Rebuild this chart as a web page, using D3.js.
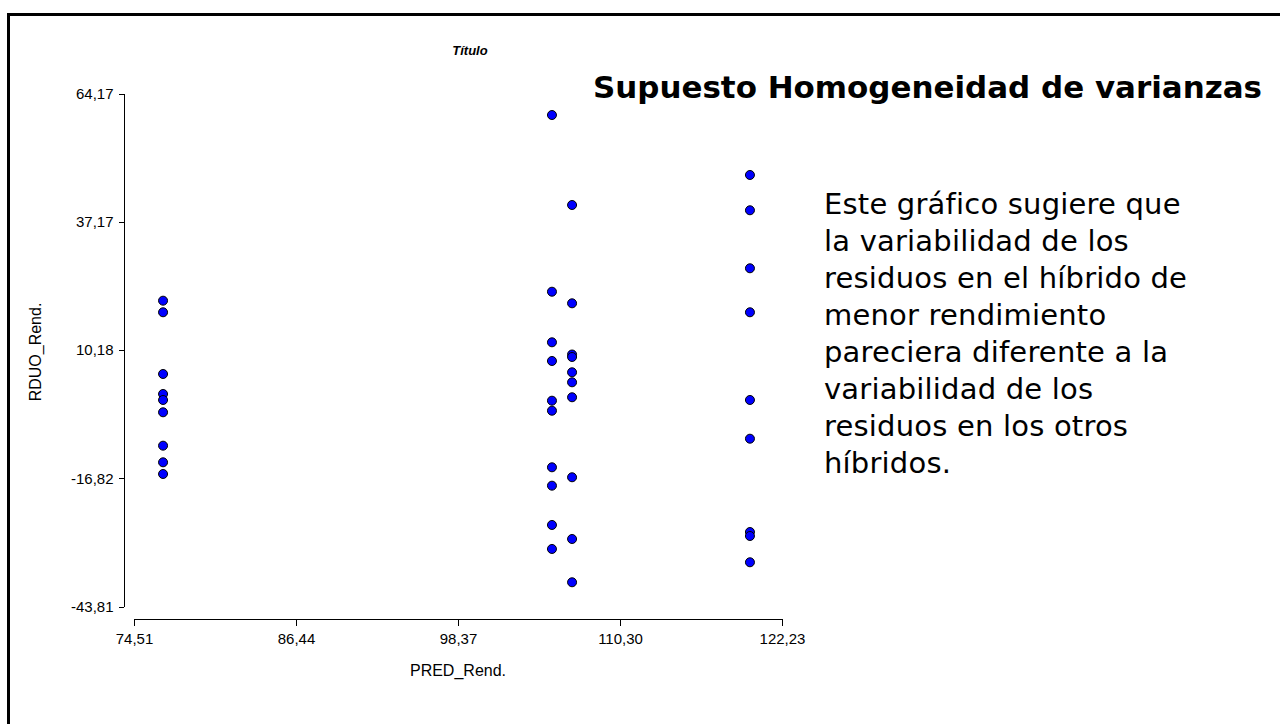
<!DOCTYPE html>
<html lang="es">
<head>
  <meta charset="UTF-8">
  <title>Supuesto Homogeneidad de varianzas</title>
  <script src="https://d3js.org/d3.v7.min.js"></script>
  <style>
    body { margin: 0; background: #fff; }
    svg { display: block; }
    .axis text { font-family: Arial, "Liberation Sans", sans-serif; font-size: 15px; fill: #000; }
    .axis path, .axis line { stroke: #000; stroke-width: 1; shape-rendering: crispEdges; }
    .axis-title { font-family: Arial, "Liberation Sans", sans-serif; font-size: 16px; }
    .comic { font-family: "DejaVu Sans", sans-serif; }
    .dot { fill: #0000ff; stroke: #000; stroke-width: 1; }
  </style>
</head>
<body>
<script>
  // ---- data ----
  const xTicks = [74.51, 86.44, 98.37, 110.30, 122.23];
  const yTicks = [-43.81, -16.82, 10.18, 37.17, 64.17];

  // predicted yield of each hybrid (x) and its residuals (y)
  const predA = 76.65;
  const residA = [20.56, 18.12, 5.13, 0.92, -0.34, -2.93, -9.96, -13.46, -15.92];

  const predB = 105.29;
  const residB = [59.64, 22.45, 11.80, 7.87, -0.49, -2.60, -14.51, -18.38, -26.65, -31.70];

  const predC = 106.77;
  const residC = [40.70, 20.01, 9.23, 8.71, 5.49, 3.38, 0.23, -16.61, -29.60, -38.71];

  const predD = 119.87;
  const residD = [47.02, 39.59, 27.38, 18.12, -0.34, -8.49, -28.13, -28.97, -34.50];

  const noteLines = [
    "Este gráfico sugiere que",
    "la variabilidad de los",
    "residuos en el híbrido de",
    "menor rendimiento",
    "pareciera diferente a la",
    "variabilidad de los",
    "residuos en los otros",
    "híbridos."
  ];

  const points = [
    ...residA.map(r => ({ x: predA, y: r })),
    ...residB.map(r => ({ x: predB, y: r })),
    ...residC.map(r => ({ x: predC, y: r })),
    ...residD.map(r => ({ x: predD, y: r }))
  ];

  const fmt = v => v.toFixed(2).replace(".", ",");

  const W = 1280, H = 724;
  const svg = d3.select("body").append("svg")
    .attr("width", W)
    .attr("height", H);

  // outer frame (runs off the right and bottom edges)
  svg.append("rect")
    .attr("x", 8.5).attr("y", 14.5)
    .attr("width", W + 20).attr("height", H + 20)
    .attr("fill", "none")
    .attr("stroke", "#000")
    .attr("stroke-width", 3);

  const x = d3.scaleLinear().domain([74.51, 122.23]).range([134, 782]);
  const y = d3.scaleLinear().domain([-43.81, 64.17]).range([606.5, 93.5]);

  // x axis
  svg.append("g")
    .attr("class", "axis")
    .attr("transform", "translate(0,618.5)")
    .call(d3.axisBottom(x).tickValues(xTicks).tickFormat(fmt)
      .tickSize(7).tickSizeOuter(0).tickPadding(8));

  // y axis
  svg.append("g")
    .attr("class", "axis")
    .attr("transform", "translate(123.5,0)")
    .call(d3.axisLeft(y).tickValues(yTicks).tickFormat(fmt)
      .tickSize(5).tickSizeOuter(0).tickPadding(5));

  svg.append("text")
    .attr("class", "axis-title")
    .attr("x", 458).attr("y", 676)
    .attr("text-anchor", "middle")
    .text("PRED_Rend.");

  svg.append("text")
    .attr("class", "axis-title")
    .attr("transform", "translate(41,352) rotate(-90)")
    .attr("text-anchor", "middle")
    .text("RDUO_Rend.");

  svg.append("text")
    .attr("x", 470).attr("y", 55)
    .attr("text-anchor", "middle")
    .style("font-family", "Arial, 'Liberation Sans', sans-serif")
    .style("font-size", "13px")
    .style("font-weight", "bold")
    .style("font-style", "italic")
    .text("Título");

  // points
  svg.selectAll(".dot")
    .data(points)
    .enter().append("circle")
    .attr("class", "dot")
    .attr("cx", d => x(d.x))
    .attr("cy", d => y(d.y))
    .attr("r", 4.5);

  // big heading
  svg.append("text")
    .attr("class", "comic")
    .attr("x", 593).attr("y", 98)
    .attr("textLength", 669)
    .attr("lengthAdjust", "spacingAndGlyphs")
    .style("font-size", "30px")
    .style("font-weight", "bold")
    .text("Supuesto Homogeneidad de varianzas");

  // explanatory note
  svg.append("g")
    .selectAll("text")
    .data(noteLines)
    .enter().append("text")
    .attr("class", "comic")
    .attr("x", 824)
    .attr("y", (d, i) => 214 + i * 37)
    .style("font-size", "29px")
    .style("letter-spacing", "0.2px")
    .text(d => d);
</script>
</body>
</html>
